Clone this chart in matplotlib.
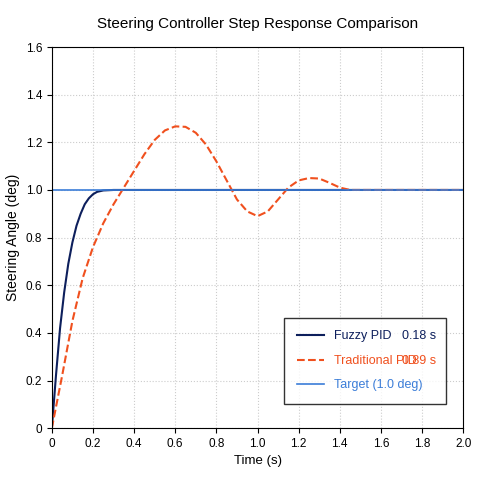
import matplotlib
matplotlib.use("Agg")
import matplotlib.pyplot as plt
import numpy as np

plt.rcParams['font.family'] = ['Liberation Sans', 'DejaVu Sans']

t_fuzzy = [0, 0.02, 0.04, 0.06, 0.08, 0.10, 0.12, 0.14, 0.16, 0.18, 0.20, 0.22, 0.25, 0.3, 2.0]
y_fuzzy = [0, 0.22, 0.42, 0.57, 0.69, 0.78, 0.85, 0.90, 0.94, 0.965, 0.982, 0.992, 0.998, 1.0, 1.0]
t_trad = [0, 0.05, 0.1, 0.15, 0.2, 0.25, 0.3, 0.35, 0.4, 0.45, 0.5, 0.55, 0.6, 0.65, 0.7, 0.75, 0.8, 0.85, 0.9, 0.95,
          1.0, 1.05, 1.1, 1.15, 1.2, 1.25, 1.3, 1.35, 1.4, 1.45, 1.5, 2.0]
y_trad = [0, 0.22, 0.45, 0.63, 0.76, 0.86, 0.94, 1.01, 1.08, 1.15, 1.21, 1.25, 1.267, 1.265, 1.24, 1.19, 1.12, 1.04, 0.96, 0.91,
          0.89, 0.91, 0.96, 1.01, 1.04, 1.05, 1.048, 1.03, 1.01, 1.0, 1.0, 1.0]
target = 1.0
names = ["Fuzzy PID", "Traditional PID", "Target (1.0 deg)"]
times = ["0.18 s", "0.89 s"]
colors = ["#0d1f5c", "#f0501e", "#3b7dd8"]

fig = plt.figure(figsize=(4.8, 4.8), dpi=100)
ax = fig.add_axes([0.108, 0.108, 0.857, 0.794])
ax.plot(t_fuzzy, y_fuzzy, color=colors[0], lw=1.5, label=names[0])
ax.plot(t_trad, y_trad, color=colors[1], lw=1.5, ls="--", label=names[1])
ax.axhline(target, color=colors[2], lw=1.2, label=names[2])
ax.set_xlim(0, 2)
ax.set_ylim(0, 1.6)
ax.set_xticks(np.arange(0, 2.01, 0.2))
ax.set_xticklabels(["0"] + [f"{v:.1f}" for v in np.arange(0.2, 2.01, 0.2)])
ax.set_yticks(np.arange(0, 1.61, 0.2))
ax.set_yticklabels(["0"] + [f"{v:.1f}" for v in np.arange(0.2, 1.61, 0.2)])
ax.tick_params(labelsize=8.5)
ax.grid(True, ls=":", color="#cccccc", lw=0.8)
ax.set_xlabel("Time (s)", fontsize=9.5)
ax.set_ylabel("Steering Angle (deg)", fontsize=10)
ax.set_title("Steering Controller Step Response Comparison", fontsize=11, pad=14)
leg = ax.legend(loc="lower left", bbox_to_anchor=(0.55, 0.047, 0.423, 0.247), mode="expand",
                fontsize=9, labelcolor="linecolor",
                frameon=True, fancybox=False, edgecolor="black", borderpad=1.0, labelspacing=1.0,
                handlelength=2.2)
leg.get_frame().set_linewidth(1.0)
leg.set_zorder(5)
fig.canvas.draw()
texts = leg.get_texts()
inv = ax.transAxes.inverted()
for i, s in enumerate(times):
    bb = texts[i].get_window_extent()
    yc = inv.transform(((bb.x0 + bb.x1) / 2, (bb.y0 + bb.y1) / 2))[1]
    ax.text(0.935, yc, s, transform=ax.transAxes, ha="right", va="center", fontsize=9,
            color=colors[i], zorder=6)
fig.savefig("out.png", dpi=100)
